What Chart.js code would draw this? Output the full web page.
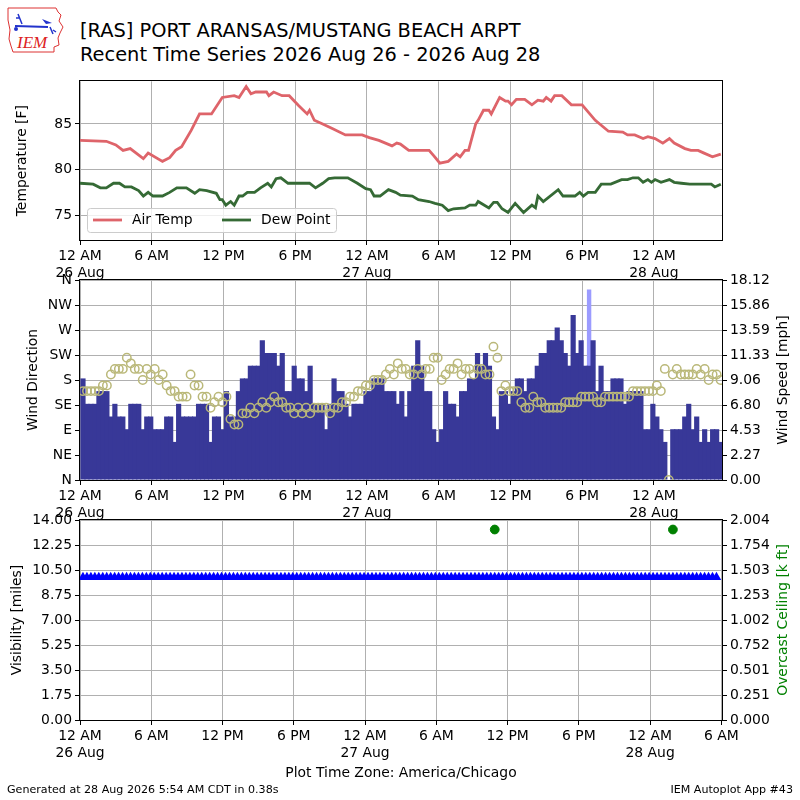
<!DOCTYPE html>
<html>
<head>
<meta charset="utf-8">
<title>[RAS] Recent Time Series</title>
<script src="https://cdn.jsdelivr.net/npm/chart.js@4.4.1/dist/chart.umd.min.js"></script>
<style>
    body { margin: 0; background: #fff; }
    #page { position: relative; width: 800px; height: 800px; overflow: hidden; background: #fff; font-family: "DejaVu Sans", sans-serif; }
    #page canvas { position: absolute; left: 0; }
    .txt { position: absolute; white-space: nowrap; color: #000; line-height: 1; }
</style>
</head>
<body>
<div id="page">
    <!-- IEM logo -->
    <svg style="position:absolute; left:6px; top:6px" width="62" height="48" viewBox="0 0 62 48">
        <path d="M2 2 L50 2 L52 6 L55 9 L53 15 L57 21 L54 27 L52 32 L53 39 L48 41 L48 46 L7 46 L5 40 L3 33 L4 24 L2 14 Z"
              fill="#fff" stroke="#d33" stroke-width="1"/>
        <path d="M9 20 L42 21" stroke="#2233cc" stroke-width="2"/>
        <path d="M12 8 L16 18 M10 12 L14 12" stroke="#2233cc" stroke-width="1.5"/>
        <path d="M36 13 L46 17 L40 18 Z" fill="#2233cc"/>
        <path d="M44 21 L47 28 M47 24 L50 26" stroke="#2233cc" stroke-width="1.5"/>
        <circle cx="10" cy="23" r="2" fill="#2233cc"/>
        <text x="11" y="42" font-family="Liberation Serif" font-style="italic" font-size="17" fill="#d22">IEM</text>
    </svg>
    <div class="txt" style="left:80px; top:21px; font-size:19.4px;">[RAS] PORT ARANSAS/MUSTANG BEACH ARPT</div>
    <div class="txt" style="left:80px; top:45px; font-size:19.4px;">Recent Time Series 2026 Aug 26 - 2026 Aug 28</div>

    <canvas id="tempChart" width="800" height="210" style="top:70px"></canvas>
    <canvas id="windChart" width="800" height="258" style="top:262px"></canvas>
    <canvas id="visChart" width="800" height="284" style="top:502px"></canvas>

    <div class="txt" style="left:7px; top:784px; font-size:11.1px;">Generated at 28 Aug 2026 5:54 AM CDT in 0.38s</div>
    <div class="txt" style="right:7px; top:784px; font-size:11.1px;">IEM Autoplot App #43</div>
</div>

<script>
// x values are hours since 12 AM 26 Aug (America/Chicago)
const dayTickHours = [0, 6, 12, 18, 24, 30, 36, 42, 48];
const dayTickLabels = [['12 AM', '26 Aug'], '6 AM', '12 PM', '6 PM', ['12 AM', '27 Aug'], '6 AM', '12 PM', '6 PM', ['12 AM', '28 Aug']];
const visTickHours = [0, 6, 12, 18, 24, 30, 36, 42, 48, 54];
const visTickLabels = [['12 AM', '26 Aug'], '6 AM', '12 PM', '6 PM', ['12 AM', '27 Aug'], '6 AM', '12 PM', '6 PM', ['12 AM', '28 Aug'], '6 AM'];

// temperature panel
const tempHours = [0, 2.2, 3.0, 3.6, 4.2, 4.7, 5.3, 5.7, 6.9, 7.5, 8.0, 8.5, 9.3, 10.0, 11.0, 11.9, 12.9, 13.3, 13.9, 14.3,
    14.7, 15.6, 15.8, 16.2, 16.9, 17.5, 18.3, 19.0, 19.2, 19.6, 20.3, 21.1, 22.2, 23.6, 24.2, 25.0, 26.1, 26.5, 26.8, 27.5,
    29.2, 29.6, 30.1, 30.8, 31.5, 31.8, 32.2, 32.5, 33.1, 33.3, 33.75, 34.2, 34.4, 35.1, 35.6, 35.8, 36.1, 36.5, 37.2, 37.8,
    38.3, 38.75, 39.0, 39.4, 39.7, 40.3, 41.1, 42.0, 43.1, 44.2, 45.4, 45.8, 46.4, 47.1, 47.5, 48.1, 48.75, 49.3, 49.7, 50.6,
    51.1, 51.7, 52.2, 52.9, 53.6];
const airTempF = [83.2, 83.1, 82.7, 82.1, 82.3, 81.8, 81.2, 81.8, 80.9, 81.3, 82.1, 82.5, 84.3, 86.1, 86.1, 87.9, 88.1, 87.9, 89.1, 88.3,
    88.5, 88.5, 88.1, 88.5, 88.1, 88.1, 87.0, 86.1, 86.5, 85.4, 85.0, 84.5, 83.8, 83.8, 83.5, 83.2, 82.6, 82.9, 82.8, 82.1,
    82.1, 81.5, 80.7, 80.9, 81.7, 81.4, 82.1, 82.1, 85.0, 85.4, 86.5, 86.5, 86.1, 87.9, 87.5, 87.5, 87.1, 87.7, 87.7, 87.1,
    87.6, 87.5, 87.9, 87.5, 88.1, 88.1, 87.1, 87.1, 85.4, 84.2, 84.1, 83.8, 83.8, 83.4, 83.6, 83.4, 82.9, 83.4, 82.9, 82.3,
    82.1, 82.1, 81.8, 81.4, 81.7];
const dewHours = [0, 1.1, 1.7, 2.2, 2.8, 3.3, 3.75, 4.3, 4.9, 5.3, 5.7, 6.1, 6.9, 7.5, 8.1, 8.9, 9.6, 10.0, 10.6, 11.4,
    11.7, 11.9, 12.2, 12.6, 12.9, 13.3, 13.6, 14.0, 14.6, 15.1, 15.7, 16.0, 16.4, 16.8, 17.4, 18.6, 19.2, 19.7, 20.3, 20.8,
    21.3, 22.4, 23.2, 23.9, 24.3, 24.6, 25.1, 25.8, 26.4, 26.8, 27.8, 28.3, 29.2, 29.7, 30.3, 30.8, 31.25, 32.2, 32.6, 33.1,
    33.3, 34.2, 34.6, 34.9, 35.3, 35.8, 36.4, 37.1, 37.8, 38.1, 38.3, 38.75, 40.0, 40.4, 41.4, 41.8, 42.1, 42.5, 43.1, 43.6,
    44.4, 45.3, 45.8, 46.25, 46.7, 47.1, 47.5, 47.8, 48.1, 48.6, 49.3, 49.7, 50.3, 51.0, 52.8, 53.1, 53.6];
const dewPointF = [78.5, 78.4, 78.0, 78.0, 78.5, 78.5, 78.1, 78.1, 77.7, 77.1, 77.5, 77.1, 77.1, 77.5, 78.0, 78.0, 77.4, 77.8, 77.7, 77.4,
    76.7, 76.7, 76.1, 76.5, 76.1, 77.1, 77.1, 77.5, 77.5, 78.0, 78.5, 78.1, 79.0, 79.1, 78.5, 78.5, 78.5, 78.0, 78.5, 79.0,
    79.1, 79.1, 78.5, 77.9, 77.8, 77.1, 77.1, 77.8, 77.5, 77.2, 77.1, 76.7, 76.5, 76.3, 76.1, 75.5, 75.7, 75.8, 76.1, 76.1,
    76.5, 75.8, 76.4, 76.4, 75.7, 75.3, 76.3, 75.3, 76.1, 75.8, 77.1, 76.5, 77.8, 77.1, 77.1, 77.5, 77.1, 77.5, 77.5, 78.4,
    78.4, 78.9, 78.9, 79.1, 79.1, 78.6, 78.9, 78.6, 78.9, 78.6, 78.9, 78.6, 78.5, 78.4, 78.4, 78.1, 78.4];
const tempTicks = [75, 80, 85];

// wind panel: one ob every 20 minutes (:15, :35, :55)
const firstObsHour = 0.25;
const obsStepHours = 1 / 3;
const windKt = [
    8, 6, 6, 6, 7, 7, 7, 5, 6, 5, 5, 4, 6, 6, 6, 4, 5, 5, 4, 4,
    4, 5, 5, 3, 6, 5, 5, 5, 5, 6, 6, 6, 3, 5, 5, 4, 7, 5, 5, 7,
    8, 8, 9, 9, 9, 11, 10, 10, 10, 9, 10, 7, 7, 9, 8, 8, 7, 9, 6, 6,
    6, 4, 6, 8, 7, 7, 6, 5, 6, 6, 6, 7, 7, 8, 8, 8, 7, 7, 7, 6,
    7, 5, 7, 9, 11, 9, 7, 7, 4, 3, 4, 7, 6, 6, 5, 7, 7, 8, 8, 10,
    9, 10, 9, 5, 4, 7, 7, 6, 7, 8, 8, 7, 8, 8, 9, 10, 10, 11, 11, 12,
    11, 10, 9, 13, 10, 11, 9, 9, 11, 7, 9, 7, 7, 8, 8, 8, 6, 7, 7, 7,
    7, 4, 4, 6, 5, 4, 3, 0, 4, 4, 4, 5, 6, 4, 5, 3, 4, 3, 4, 4,
    3];
const windDirDeg = [
    160, 160, 160, 160, 160, 170, 170, 190, 200, 200, 200, 220, 210, 200, 200, 180, 200, 190, 200, 180,
    190, 170, 160, 160, 150, 150, 150, 190, 170, 170, 150, 150, 130, 140, 150, 140, 150, 110, 100, 100,
    120, 120, 130, 120, 130, 140, 130, 140, 150, 140, 140, 130, 130, 120, 130, 120, 130, 120, 130, 130,
    130, 130, 120, 130, 130, 140, 140, 150, 150, 160, 160, 170, 170, 180, 180, 180, 190, 200, 190, 210,
    200, 200, 190, 190, 200, 190, 200, 200, 220, 220, 180, 190, 200, 200, 210, 190, 200, 200, 190, 200,
    200, 190, 190, 240, 220, 160, 170, 160, 160, 160, 140, 130, 130, 150, 140, 140, 130, 130, 130, 130,
    130, 140, 140, 140, 140, 150, 150, 150, 150, 140, 140, 150, 150, 150, 150, 150, 150, 150, 160, 160,
    160, 160, 160, 160, 170, 160, 200, 0, 190, 200, 190, 190, 190, 190, 200, 190, 200, 180, 190, 190,
    180];
// the only gust, at the 6:35 PM 27 Aug ob
const gustObsIndex = [127];
const gustKt = [15];
const dirTicks = [0, 45, 90, 135, 180, 225, 270, 315, 360];
const dirTickLabels = ['N', 'NE', 'E', 'SE', 'S', 'SW', 'W', 'NW', 'N'];
const speedMaxMph = 18.1248;

// visibility / ceiling panel
const visibilityMi = [
    10, 10, 10, 10, 10, 10, 10, 10, 10, 10, 10, 10, 10, 10, 10, 10, 10, 10, 10, 10,
    10, 10, 10, 10, 10, 10, 10, 10, 10, 10, 10, 10, 10, 10, 10, 10, 10, 10, 10, 10,
    10, 10, 10, 10, 10, 10, 10, 10, 10, 10, 10, 10, 10, 10, 10, 10, 10, 10, 10, 10,
    10, 10, 10, 10, 10, 10, 10, 10, 10, 10, 10, 10, 10, 10, 10, 10, 10, 10, 10, 10,
    10, 10, 10, 10, 10, 10, 10, 10, 10, 10, 10, 10, 10, 10, 10, 10, 10, 10, 10, 10,
    10, 10, 10, 10, 10, 10, 10, 10, 10, 10, 10, 10, 10, 10, 10, 10, 10, 10, 10, 10,
    10, 10, 10, 10, 10, 10, 10, 10, 10, 10, 10, 10, 10, 10, 10, 10, 10, 10, 10, 10,
    10, 10, 10, 10, 10, 10, 10, 10, 10, 10, 10, 10, 10, 10, 10, 10, 10, 10, 10, 10,
    10];
const ceilingHours = [34.917, 49.917];
const ceilingKft = [1.909, 1.909];
const visMax = 14;
const ceilingMaxKft = 2.0044;

const KT_TO_MPH = 1.150779;
const GRID_COLOR = '#b0b0b0';
const TOP_MAX_HOUR = 53.7;
const VIS_MAX_HOUR = 54.05;

Chart.defaults.font.family = "'DejaVu Sans', sans-serif";
Chart.defaults.font.size = 13.9;
Chart.defaults.color = '#000';

const obsHours = windKt.map((_, i) => firstObsHour + i * obsStepHours);
const gustHours = gustObsIndex.map(i => obsHours[i]);
const points = (xs, ys) => xs.map((x, i) => ({ x: x, y: ys[i] }));

// black box round the plot area
const framePlugin = {
    id: 'frame',
    afterDraw(chart) {
        const { ctx, chartArea: a } = chart;
        ctx.save();
        ctx.strokeStyle = '#000';
        ctx.lineWidth = 1;
        ctx.strokeRect(Math.round(a.left) - 0.5, Math.round(a.top) - 0.5,
            Math.round(a.right - a.left) + 1, Math.round(a.bottom - a.top) + 1);
        ctx.restore();
    }
};

// right hand axis label, reading bottom to top like the left one
const sideTitlePlugin = {
    id: 'sideTitle',
    afterDraw(chart, args, opts) {
        if (!opts.text) return;
        const { ctx, chartArea: a } = chart;
        ctx.save();
        ctx.translate(opts.x, (a.top + a.bottom) / 2);
        ctx.rotate(-Math.PI / 2);
        ctx.font = "13.9px 'DejaVu Sans', sans-serif";
        ctx.fillStyle = opts.color || '#000';
        ctx.textAlign = 'center';
        ctx.textBaseline = 'middle';
        ctx.fillText(opts.text, 0, 0);
        ctx.restore();
    }
};

// matplotlib style legend in the lower left of the temperature panel
const tempLegendPlugin = {
    id: 'tempLegend',
    afterDraw(chart) {
        const { ctx, chartArea: a } = chart;
        const x0 = a.left + 7, y0 = a.bottom - 32, w = 249, h = 24;
        const cy = y0 + h / 2;
        ctx.save();
        ctx.beginPath();
        ctx.roundRect(x0 + 0.5, y0 + 0.5, w, h, 3);
        ctx.fillStyle = 'rgba(255,255,255,0.8)';
        ctx.fill();
        ctx.strokeStyle = '#cccccc';
        ctx.lineWidth = 1;
        ctx.stroke();
        ctx.font = "13.9px 'DejaVu Sans', sans-serif";
        ctx.textBaseline = 'middle';
        const offsets = [6, 135];
        chart.data.datasets.forEach((ds, i) => {
            const lx = x0 + offsets[i];
            ctx.strokeStyle = ds.borderColor;
            ctx.lineWidth = ds.borderWidth;
            ctx.beginPath();
            ctx.moveTo(lx, cy);
            ctx.lineTo(lx + 29, cy);
            ctx.stroke();
            ctx.fillStyle = '#000';
            ctx.fillText(ds.label, lx + 39, cy);
        });
        ctx.restore();
    }
};

function gridStyle(onChart) {
    return {
        color: GRID_COLOR, lineWidth: 1, tickColor: '#000', tickLength: 5,
        drawOnChartArea: onChart, offset: false
    };
}

function timeAxis(maxHour, tickHours, tickLabels, height, title) {
    return {
        type: 'linear', min: 0, max: maxHour, offset: false, z: 1,
        afterBuildTicks: axis => { axis.ticks = tickHours.map(v => ({ value: v })); },
        afterFit: axis => { axis.height = height; },
        ticks: {
            autoSkip: false, maxRotation: 0, minRotation: 0, padding: 3,
            callback: value => tickLabels[tickHours.indexOf(value)]
        },
        grid: gridStyle(true),
        border: { display: false },
        title: title ? { display: true, text: title, padding: { top: 4, bottom: 4 } } : { display: false }
    };
}

function valueAxis(position, min, max, tickValues, tickLabels, width, onChart, title) {
    return {
        type: 'linear', position: position, min: min, max: max, z: 1,
        afterBuildTicks: axis => { axis.ticks = tickValues.map(v => ({ value: v })); },
        afterFit: axis => { axis.width = width; },
        ticks: {
            autoSkip: false, padding: 3,
            callback: (value, i) => tickLabels[i]
        },
        grid: gridStyle(onChart),
        border: { display: false },
        title: title ? { display: true, text: title, padding: { top: 4, bottom: 4 } } : { display: false }
    };
}

function buildTempChart() {
    return new Chart(document.getElementById('tempChart'), {
        type: 'line',
        data: {
            datasets: [{
                label: 'Air Temp',
                data: points(tempHours, airTempF),
                borderColor: '#de646a', borderWidth: 2.8, pointRadius: 0, tension: 0
            }, {
                label: 'Dew Point',
                data: points(dewHours, dewPointF),
                borderColor: '#356a35', borderWidth: 2.8, pointRadius: 0, tension: 0
            }]
        },
        options: {
            responsive: false, animation: false, events: [],
            layout: { padding: { left: 10, right: 78, top: 10, bottom: 0 } },
            plugins: { legend: { display: false }, tooltip: { enabled: false } },
            scales: {
                x: timeAxis(TOP_MAX_HOUR, dayTickHours, dayTickLabels, 40),
                y: valueAxis('left', 72.28, 89.67, tempTicks, tempTicks.map(String), 70, true, 'Temperature [F]')
            }
        },
        plugins: [framePlugin, tempLegendPlugin]
    });
}

function buildWindChart() {
    const speedTicks = [0, 1, 2, 3, 4, 5, 6, 7, 8].map(i => i * speedMaxMph / 8);
    return new Chart(document.getElementById('windChart'), {
        type: 'bar',
        data: {
            datasets: [{
                type: 'scatter',
                label: 'Wind Direction',
                data: points(obsHours, windDirDeg),
                yAxisID: 'yDir',
                pointStyle: 'circle', pointRadius: 4.2, borderWidth: 1.5,
                borderColor: '#bab879', backgroundColor: 'rgba(0,0,0,0)',
                clip: 0, order: 0
            }, {
                label: 'Wind Speed',
                data: points(obsHours, windKt.map(k => k * KT_TO_MPH)),
                yAxisID: 'ySpd',
                backgroundColor: '#383898', borderWidth: 0,
                barPercentage: 1.3, categoryPercentage: 1, grouped: false, order: 1
            }, {
                label: 'Wind Gust',
                data: points(gustHours, gustKt.map(k => k * KT_TO_MPH)),
                yAxisID: 'ySpd',
                backgroundColor: '#9b9bff', borderWidth: 0,
                barPercentage: 1.1, categoryPercentage: 1, grouped: false, order: 2
            }]
        },
        options: {
            responsive: false, animation: false, events: [],
            layout: { padding: { left: 21, right: 0, top: 18, bottom: 0 } },
            plugins: {
                legend: { display: false }, tooltip: { enabled: false },
                sideTitle: { text: 'Wind Speed [mph]', x: 783 }
            },
            scales: {
                x: timeAxis(TOP_MAX_HOUR, dayTickHours, dayTickLabels, 40),
                yDir: valueAxis('left', 0, 360, dirTicks, dirTickLabels, 59, true, 'Wind Direction'),
                ySpd: valueAxis('right', 0, speedMaxMph, speedTicks, speedTicks.map(v => v.toFixed(2)), 78, false)
            }
        },
        plugins: [framePlugin, sideTitlePlugin]
    });
}

function buildVisChart() {
    const visTicks = [0, 1, 2, 3, 4, 5, 6, 7, 8].map(i => i * visMax / 8);
    const ceilTicks = [0, 1, 2, 3, 4, 5, 6, 7, 8].map(i => i * ceilingMaxKft / 8);
    return new Chart(document.getElementById('visChart'), {
        type: 'line',
        data: {
            datasets: [{
                label: 'Visibility',
                data: points(obsHours, visibilityMi),
                yAxisID: 'yVis',
                borderColor: '#0000ff', backgroundColor: '#0000ff', borderWidth: 1.5,
                pointStyle: 'triangle', pointRadius: 5.5, pointBorderWidth: 0, tension: 0
            }, {
                type: 'scatter',
                label: 'Overcast Ceiling',
                data: points(ceilingHours, ceilingKft),
                yAxisID: 'yCeil',
                pointStyle: 'circle', pointRadius: 4.4,
                borderColor: '#008000', backgroundColor: '#008000'
            }]
        },
        options: {
            responsive: false, animation: false, events: [],
            layout: { padding: { left: 5, right: 0, top: 18, bottom: 0 } },
            plugins: {
                legend: { display: false }, tooltip: { enabled: false },
                sideTitle: { text: 'Overcast Ceiling [k ft]', x: 783, color: '#008000' }
            },
            scales: {
                x: timeAxis(VIS_MAX_HOUR, visTickHours, visTickLabels, 66, 'Plot Time Zone: America/Chicago'),
                yVis: valueAxis('left', 0, visMax, visTicks, visTicks.map(v => v.toFixed(2)), 75, true, 'Visibility [miles]'),
                yCeil: valueAxis('right', 0, ceilingMaxKft, ceilTicks, ceilTicks.map(v => v.toFixed(3)), 78, false)
            }
        },
        plugins: [framePlugin, sideTitlePlugin]
    });
}

buildTempChart();
buildWindChart();
buildVisChart();
</script>
</body>
</html>
